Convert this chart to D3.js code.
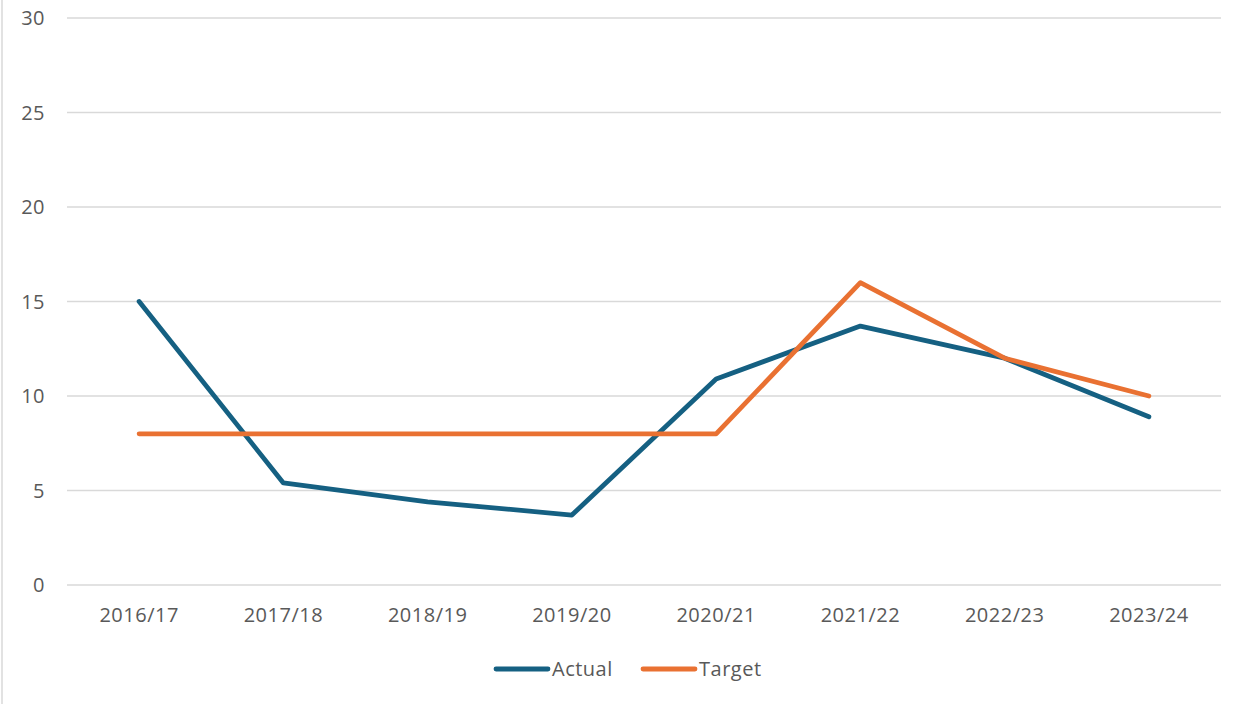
<!DOCTYPE html>
<html lang="en">
<head>
    <meta charset="UTF-8">
    <title>Actual vs Target</title>
    <script src="https://d3js.org/d3.v7.min.js"></script>
    <style>
        body { margin: 0; background: #fff; font-family: "Open Sans", Arial, sans-serif; }
        .axis text { fill: #595959; font-size: 20px; letter-spacing: 0.5px; }
    </style>
</head>
<body>
    <div id="chart"></div>
    <script>
        const years = ["2016/17", "2017/18", "2018/19", "2019/20", "2020/21", "2021/22", "2022/23", "2023/24"];
        const actual = [15, 5.4, 4.4, 3.7, 10.9, 13.7, 12.0, 8.9];
        const target = [8, 8, 8, 8, 8, 16, 12, 10];
        const yTicks = [0, 5, 10, 15, 20, 25, 30];

        const width = 1248, height = 704;
        const margin = {top: 18, right: 27, bottom: 119, left: 67};

        const svg = d3.select("#chart").append("svg")
            .attr("width", width)
            .attr("height", height);

        // chart frame (only the left edge is visible)
        svg.append("rect")
            .attr("x", 2).attr("y", -5)
            .attr("width", width + 10).attr("height", height + 10)
            .attr("fill", "none")
            .attr("stroke", "#d9d9d9")
            .attr("stroke-width", 1.5);

        const x = d3.scaleBand()
            .domain(years)
            .range([margin.left, width - margin.right]);

        const y = d3.scaleLinear()
            .domain([0, 30])
            .range([height - margin.bottom, margin.top]);

        // gridlines
        svg.append("g")
            .selectAll("line")
            .data(yTicks)
            .enter().append("line")
            .attr("x1", margin.left)
            .attr("x2", width - margin.right)
            .attr("y1", d => y(d))
            .attr("y2", d => y(d))
            .attr("stroke", "#d9d9d9")
            .attr("stroke-width", 1.3);

        // y axis labels
        svg.append("g")
            .attr("class", "axis")
            .selectAll("text")
            .data(yTicks)
            .enter().append("text")
            .attr("x", 45)
            .attr("y", d => y(d))
            .attr("dy", "0.35em")
            .attr("text-anchor", "end")
            .text(d => d);

        // x axis labels
        svg.append("g")
            .attr("class", "axis")
            .selectAll("text")
            .data(years)
            .enter().append("text")
            .attr("x", d => x(d) + x.bandwidth() / 2)
            .attr("y", y(0) + 30)
            .attr("dy", "0.35em")
            .attr("text-anchor", "middle")
            .text(d => d);

        const line = d3.line()
            .x((d, i) => x(years[i]) + x.bandwidth() / 2)
            .y(d => y(d));

        const series = [
            {name: "Actual", values: actual, color: "#156082"},
            {name: "Target", values: target, color: "#e97132"}
        ];

        series.forEach(s => {
            svg.append("path")
                .datum(s.values)
                .attr("fill", "none")
                .attr("stroke", s.color)
                .attr("stroke-width", 4.8)
                .attr("stroke-linecap", "round")
                .attr("stroke-linejoin", "round")
                .attr("d", line);
        });

        // legend
        const legend = svg.append("g").attr("class", "axis");
        const legendX = [496, 643];
        series.forEach((s, i) => {
            legend.append("line")
                .attr("x1", legendX[i]).attr("x2", legendX[i] + 52)
                .attr("y1", 669).attr("y2", 669)
                .attr("stroke", s.color)
                .attr("stroke-width", 4.8)
                .attr("stroke-linecap", "round");
            legend.append("text")
                .attr("x", legendX[i] + 56)
                .attr("y", 669)
                .attr("dy", "0.35em")
                .text(s.name);
        });
    </script>
</body>
</html>
